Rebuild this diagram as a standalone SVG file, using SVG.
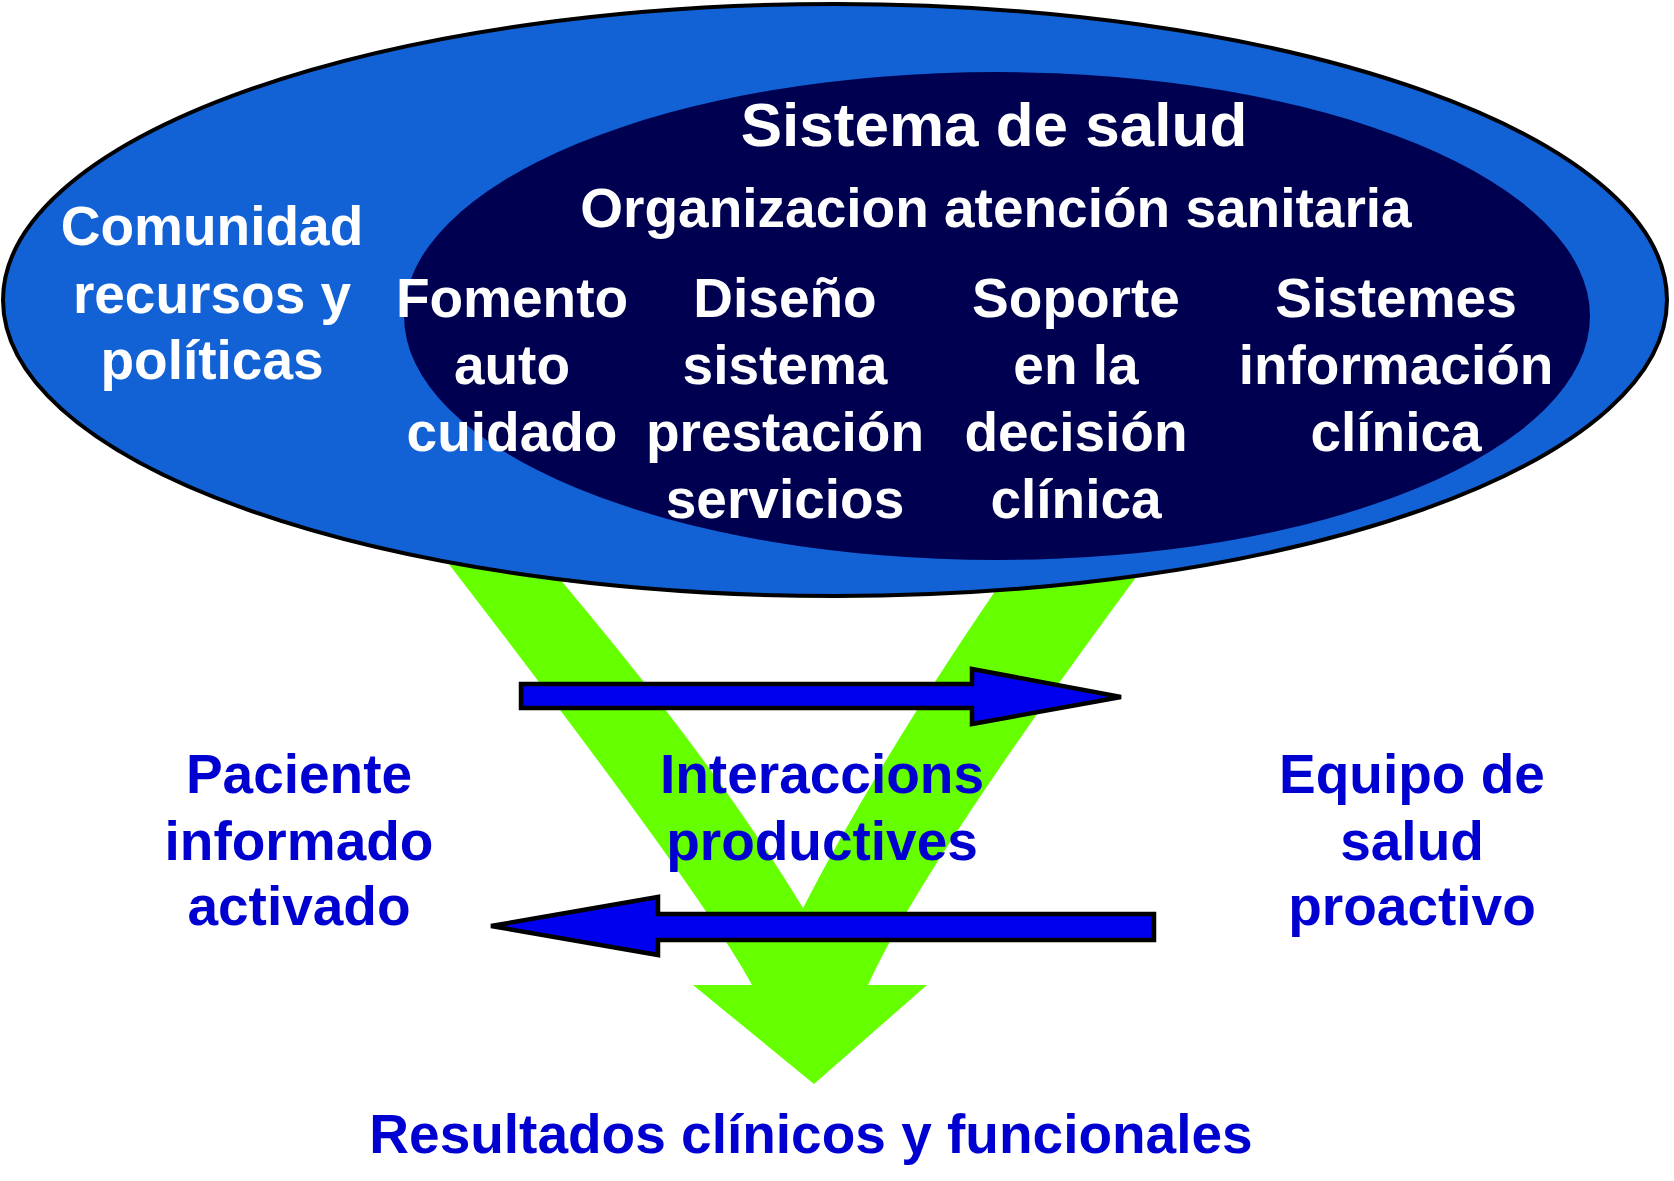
<svg xmlns="http://www.w3.org/2000/svg" width="1674" height="1181" viewBox="0 0 1674 1181">
<style>
text{font-family:"Liberation Sans",Arial,sans-serif;font-weight:bold;text-anchor:middle}
.w{fill:#ffffff;font-size:55px}
.b{fill:#0000d0;font-size:55px}
.arr{fill:#0000ee;stroke:#000000;stroke-width:4.5;stroke-linejoin:miter}
</style>
<rect x="0" y="0" width="1674" height="1181" fill="#ffffff"/>
<g id="v-arrow">
<path d="M368,460 Q695,879 752,985 L693,985 L814,1084 L927,985 L868,985 Q931,846 1224,460 L1088,460 Q905,710 803,908 Q690,721 456,460 Z" fill="#66ff00"/>
</g>
<g id="comunidad">
<ellipse cx="835" cy="300" rx="832" ry="296" fill="#1262d6" stroke="#000000" stroke-width="4"/>
<text class="w" x="212" y="245">Comunidad</text>
<text class="w" x="212" y="313">recursos y</text>
<text class="w" x="212" y="379">políticas</text>
</g>
<g id="sistema-salud">
<ellipse cx="997" cy="316" rx="593" ry="244" fill="#000050"/>
<text class="w" x="994" y="146" style="font-size:62px">Sistema de salud</text>
<text class="w" x="996" y="227">Organizacion atención sanitaria</text>
</g>
<g id="fomento">
<text class="w" x="512" y="317">Fomento</text>
<text class="w" x="512" y="384">auto</text>
<text class="w" x="512" y="451">cuidado</text>
</g>
<g id="diseno">
<text class="w" x="785" y="317">Diseño</text>
<text class="w" x="785" y="384">sistema</text>
<text class="w" x="785" y="451">prestación</text>
<text class="w" x="785" y="518">servicios</text>
</g>
<g id="soporte">
<text class="w" x="1076" y="317">Soporte</text>
<text class="w" x="1076" y="384">en la</text>
<text class="w" x="1076" y="451">decisión</text>
<text class="w" x="1076" y="518">clínica</text>
</g>
<g id="sistemes">
<text class="w" x="1396" y="317">Sistemes</text>
<text class="w" x="1396" y="384">información</text>
<text class="w" x="1396" y="451">clínica</text>
</g>
<g id="connectors">
<polygon class="arr" points="521,684 972,684 972,669 1121,697 972,724 972,708 521,708"/>
<polygon class="arr" points="1154,914 1154,940 658,940 658,955 491,926 658,897 658,914"/>
</g>
<g id="paciente">
<text class="b" x="299" y="793">Paciente</text>
<text class="b" x="299" y="860">informado</text>
<text class="b" x="299" y="925">activado</text>
</g>
<g id="interaccions">
<text class="b" x="822" y="793">Interaccions</text>
<text class="b" x="822" y="860">productives</text>
</g>
<g id="equipo">
<text class="b" x="1412" y="793">Equipo de</text>
<text class="b" x="1412" y="860">salud</text>
<text class="b" x="1412" y="925">proactivo</text>
</g>
<g id="resultados">
<text class="b" x="811" y="1153">Resultados clínicos y funcionales</text>
</g>
</svg>
